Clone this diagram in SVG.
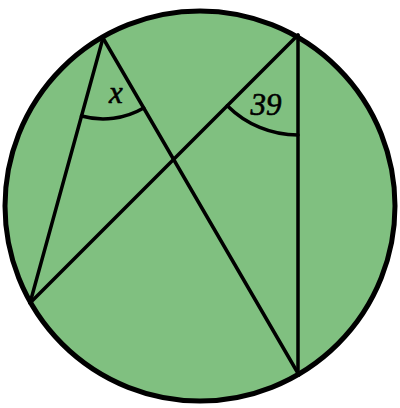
<svg xmlns="http://www.w3.org/2000/svg" width="400" height="408" viewBox="0 0 400 408">
<style>
.ln{stroke:#000;stroke-width:3.5;fill:none;stroke-linecap:round}
.lbl{font-family:"Liberation Serif","DejaVu Serif",serif;font-style:italic;fill:#000;stroke:#000;stroke-width:0.6}
</style>
<g id="circle"><circle cx="200" cy="206" r="195" fill="#80c080" stroke="#000" stroke-width="5"/></g>
<g id="connectors">
<line class="ln" x1="103" y1="38" x2="30" y2="303"/>
<line class="ln" x1="103" y1="38" x2="299" y2="375"/>
<line class="ln" x1="298" y1="35" x2="30" y2="303"/>
<line class="ln" x1="298" y1="35" x2="298" y2="375"/>
</g>
<g id="angle-x">
<path class="ln" d="M81.5 116 A81 81 0 0 0 143.7 108"/>
<text class="lbl" x="116" y="103" font-size="31" text-anchor="middle">x</text>
</g>
<g id="angle-39">
<path class="ln" d="M227.3 105.7 A100 100 0 0 0 298 135"/>
<text class="lbl" x="266" y="115" font-size="31" text-anchor="middle">39</text>
</g>
</svg>
